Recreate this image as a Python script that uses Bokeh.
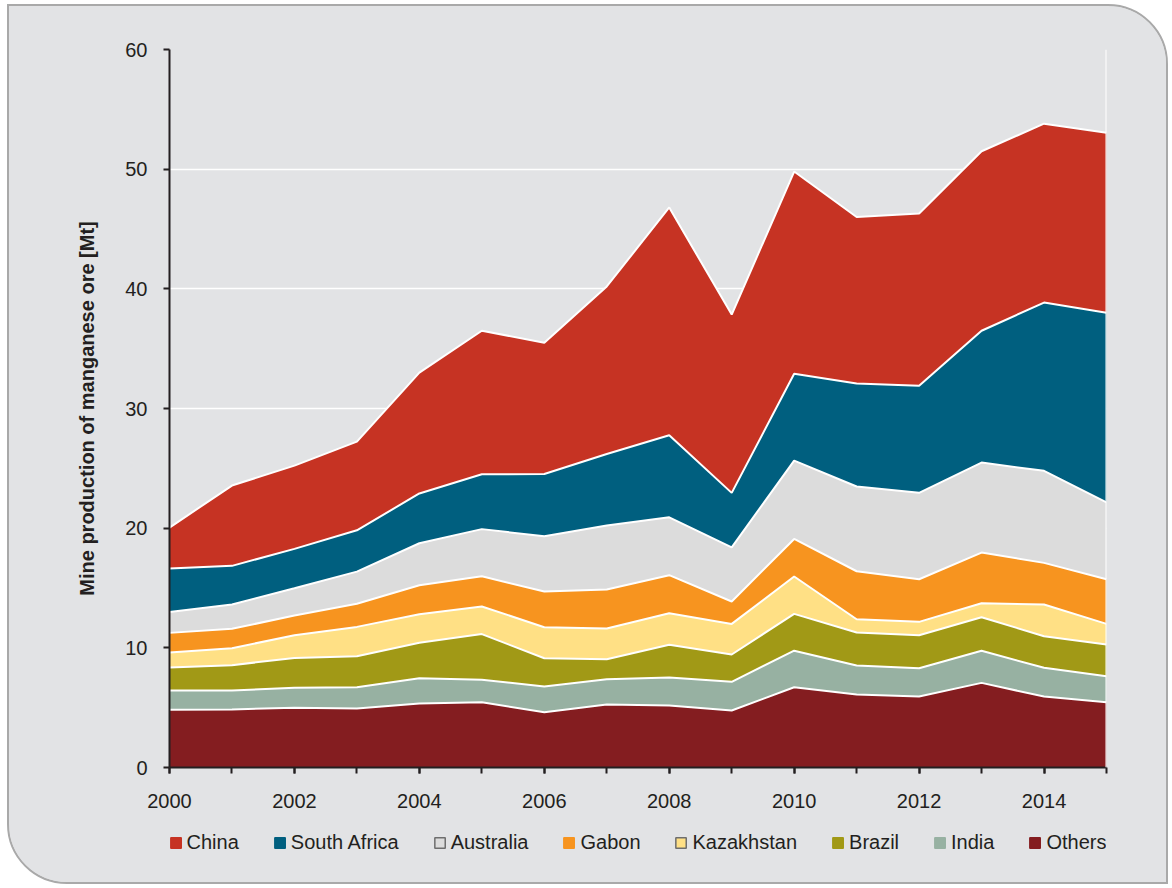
from bokeh.plotting import figure
from bokeh.layouts import column
from bokeh.models import ColumnDataSource, Legend, LegendItem, SingleIntervalTicker, FixedTicker, Span, Range1d
from bokeh.embed import file_html
from bokeh.resources import INLINE

years = list(range(2000, 2016))
others = [4.82, 4.85, 4.99, 4.93, 5.35, 5.45, 4.62, 5.26, 5.18, 4.76, 6.71, 6.10, 5.93, 7.07, 5.93, 5.46]
india = [1.61, 1.58, 1.67, 1.78, 2.11, 1.89, 2.15, 2.12, 2.34, 2.40, 3.05, 2.42, 2.37, 2.68, 2.40, 2.17]
brazil = [1.92, 2.12, 2.50, 2.59, 2.96, 3.81, 2.36, 1.67, 2.73, 2.28, 3.08, 2.76, 2.75, 2.81, 2.64, 2.65]
kazakhstan = [1.26, 1.42, 1.89, 2.45, 2.39, 2.31, 2.59, 2.56, 2.64, 2.56, 3.12, 1.11, 1.12, 1.17, 2.65, 1.72]
gabon = [1.64, 1.62, 1.65, 1.93, 2.42, 2.52, 2.98, 3.26, 3.18, 1.87, 3.14, 4.01, 3.56, 4.23, 3.48, 3.73]
australia = [1.75, 2.03, 2.28, 2.69, 3.51, 3.94, 4.62, 5.35, 4.84, 4.53, 6.55, 7.08, 7.22, 7.52, 7.69, 6.43]
south_africa = [3.62, 3.23, 3.29, 3.45, 4.16, 4.58, 5.21, 5.98, 6.85, 4.55, 7.25, 8.60, 8.95, 11.02, 14.06, 15.84]
china = [3.43, 6.71, 6.96, 7.41, 10.10, 12.00, 10.97, 14.00, 19.04, 14.90, 16.90, 13.92, 14.40, 15.00, 14.95, 15.05]

series_names = ["others", "india", "brazil", "kazakhstan", "gabon", "australia", "south_africa", "china"]
series_labels = ["Others", "India", "Brazil", "Kazakhstan", "Gabon", "Australia", "South Africa", "China"]
colors = ["#841D20", "#97B1A2", "#A19916", "#FFE085", "#F7941F", "#DCDCDC", "#005F7F", "#C63323"]
swatch_lines = [None, None, None, "#6E6E6E", None, "#6E6E6E", None, None]
y_ticks = [0, 10, 20, 30, 40, 50, 60]

src = ColumnDataSource(dict(year=years, others=others, india=india, brazil=brazil,
                            kazakhstan=kazakhstan, gabon=gabon, australia=australia,
                            south_africa=south_africa, china=china))

BG = "#E2E3E5"
FONT = "Liberation Sans"
TXT = "#231F20"
NAN = float("nan")

p = figure(frame_width=937, frame_height=718, output_backend="svg", toolbar_location=None,
           x_range=Range1d(2000, 2015), y_range=Range1d(0, 60),
           min_border_left=160, min_border_right=60, min_border_top=43, min_border_bottom=0)
p.background_fill_color = BG
p.border_fill_color = BG
p.outline_line_color = None

p.varea_stack(series_names, x="year", color=colors, source=src)
p.vline_stack(series_names, x="year", line_color="white", line_width=2, source=src)

p.add_layout(Span(location=2015, dimension="height", line_color="white", line_width=2))

p.xgrid.visible = False
p.ygrid.grid_line_color = "white"
p.ygrid.grid_line_width = 1.5

p.xaxis.ticker = SingleIntervalTicker(interval=2, num_minor_ticks=2)
p.yaxis.ticker = FixedTicker(ticks=y_ticks)
for ax in (p.xaxis, p.yaxis):
    ax.axis_line_color = "#231F20"
    ax.axis_line_width = 2
    ax.major_tick_line_color = "#231F20"
    ax.major_tick_line_width = 2
    ax.major_tick_out = 6
    ax.major_tick_in = 0
    ax.minor_tick_line_color = "#231F20"
    ax.minor_tick_line_width = 2
    ax.minor_tick_out = 6
    ax.minor_tick_in = 0
    ax.major_label_text_font = FONT
    ax.major_label_text_font_size = "20px"
    ax.major_label_text_color = TXT
    ax.major_label_standoff = 16
p.xaxis.major_label_standoff = 20
p.yaxis.minor_tick_line_color = None
p.yaxis.axis_label = "Mine production of manganese ore [Mt]"
p.yaxis.axis_label_text_font = FONT
p.yaxis.axis_label_text_font_size = "20px"
p.yaxis.axis_label_text_font_style = "bold"
p.yaxis.axis_label_text_color = TXT
p.yaxis.axis_label_standoff = 24

# legend strip below the chart
lf = figure(frame_width=937, frame_height=72, output_backend="svg", toolbar_location=None,
            x_range=Range1d(0, 1), y_range=Range1d(0, 1),
            x_axis_location=None, y_axis_location=None,
            min_border_left=160, min_border_right=60, min_border_top=0, min_border_bottom=0)
lf.background_fill_color = BG
lf.border_fill_color = BG
lf.outline_line_color = None
lf.grid.visible = False

items = []
for i in reversed(range(len(series_names))):
    r = lf.quad(left=[NAN], right=[NAN], top=[NAN], bottom=[NAN], fill_color=colors[i],
                line_color=swatch_lines[i] if swatch_lines[i] else colors[i], line_width=1.5)
    items.append(LegendItem(label=series_labels[i], renderers=[r]))

legend = Legend(items=items, orientation="horizontal", location="top_center",
                glyph_width=13, glyph_height=13, spacing=34, label_standoff=5,
                label_text_font=FONT, label_text_font_size="20px", label_text_color=TXT,
                background_fill_alpha=0, border_line_color=None, padding=0, margin=21)
lf.add_layout(legend)

layout = column(p, lf, spacing=0,
                styles={"border": "2px solid #A9A9A9", "border-radius": "0 60px 0 60px",
                        "overflow": "hidden", "margin-left": "7px", "margin-top": "4px",
                        "background-color": BG})

open("out.html", "w").write(file_html(layout, INLINE))
